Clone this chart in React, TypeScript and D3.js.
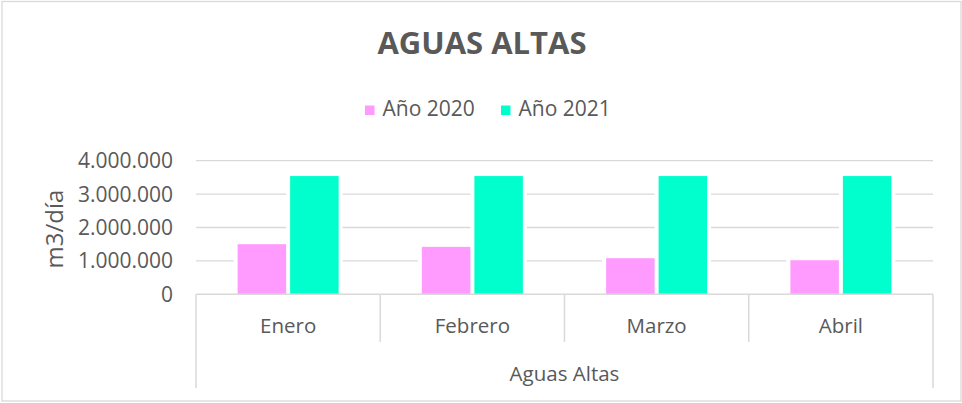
import { useEffect, useRef } from 'react';
import * as d3 from 'd3';

const months = ['Enero', 'Febrero', 'Marzo', 'Abril'];
const seriesNames = ['Año 2020', 'Año 2021'];
const values2020 = [1500000, 1420000, 1080000, 1020000];
const values2021 = [3540000, 3540000, 3540000, 3540000];
const yTicks = [0, 1000000, 2000000, 3000000, 4000000];
const groupLabel = 'Aguas Altas';

const colors = ['#FF9BFF', '#00FFCC'];
const textColor = '#595959';
const gridColor = '#D9D9D9';
const font = '"Open Sans", sans-serif';

const App = () => {
  const chartRef = useRef<SVGSVGElement>(null);

  useEffect(() => {
    document.body.style.margin = '0';
    const width = 962;
    const height = 403;
    const plot = { left: 196, right: 933, top: 160.7, bottom: 294.3 };

    const svg = d3.select(chartRef.current);
    svg.selectAll('*').remove();

    svg.attr('width', width).attr('height', height);

    // chart frame
    svg.append('rect')
      .attr('x', 2).attr('y', 1.5)
      .attr('width', 959).attr('height', 399.5)
      .attr('fill', '#fff')
      .attr('stroke', gridColor)
      .attr('stroke-width', 1.3);

    // title
    svg.append('text')
      .attr('x', 482).attr('y', 54.3)
      .attr('text-anchor', 'middle')
      .attr('font-family', font)
      .attr('font-weight', 'bold')
      .attr('font-size', 31)
      .attr('fill', textColor)
      .text('AGUAS ALTAS');

    // legend
    const legendX = [365, 501];
    seriesNames.forEach((name, i) => {
      svg.append('rect')
        .attr('x', legendX[i]).attr('y', 105.5)
        .attr('width', 9.5).attr('height', 9.5)
        .attr('fill', colors[i]);
      svg.append('text')
        .attr('x', legendX[i] + 17.5).attr('y', 116)
        .attr('font-family', font)
        .attr('font-size', 21)
        .attr('fill', textColor)
        .text(name);
    });

    const yScale = d3.scaleLinear()
      .domain([0, 4000000])
      .range([plot.bottom, plot.top]);

    const xScale = d3.scaleBand()
      .domain(months)
      .range([plot.left, plot.right])
      .padding(0);

    const inner = d3.scaleBand()
      .domain(seriesNames)
      .range([-50.5, 50.5])
      .paddingInner(0.076)
      .paddingOuter(0);

    // horizontal grid lines
    svg.append('g')
      .selectAll('line')
      .data(yTicks.filter(d => d > 0))
      .enter().append('line')
      .attr('x1', plot.left).attr('x2', plot.right)
      .attr('y1', d => yScale(d)).attr('y2', d => yScale(d))
      .attr('stroke', gridColor)
      .attr('stroke-width', 1.3);

    // y tick labels
    const fmt = (d: number) => d3.format(',')(d).replace(/,/g, '.');
    svg.append('g')
      .selectAll('text')
      .data(yTicks)
      .enter().append('text')
      .attr('x', 173)
      .attr('y', d => yScale(d))
      .attr('dy', '0.36em')
      .attr('text-anchor', 'end')
      .attr('font-family', font)
      .attr('font-size', 21)
      .attr('fill', textColor)
      .text(d => fmt(d));

    // y axis title
    svg.append('text')
      .attr('transform', 'translate(62.5,229) rotate(-90)')
      .attr('text-anchor', 'middle')
      .attr('font-family', font)
      .attr('font-size', 24)
      .attr('fill', textColor)
      .text('m3/día');

    // bars
    const bars = months.flatMap((m, i) => [
      { month: m, series: seriesNames[0], value: values2020[i], color: colors[0] },
      { month: m, series: seriesNames[1], value: values2021[i], color: colors[1] },
    ]);
    const barX = (d: typeof bars[number]) =>
      (xScale(d.month) as number) + xScale.bandwidth() / 2 + (inner(d.series) as number);

    // white halo behind bars (breaks the gridlines like in the original)
    svg.append('g')
      .selectAll('rect')
      .data(bars)
      .enter().append('rect')
      .attr('x', d => barX(d) - 4)
      .attr('y', d => yScale(d.value) - 1)
      .attr('width', inner.bandwidth() + 8)
      .attr('height', d => yScale(0) - yScale(d.value) + 1)
      .attr('fill', '#fff');

    svg.append('g')
      .selectAll('rect')
      .data(bars)
      .enter().append('rect')
      .attr('x', d => barX(d))
      .attr('y', d => yScale(d.value))
      .attr('width', inner.bandwidth())
      .attr('height', d => yScale(0) - yScale(d.value))
      .attr('fill', d => d.color);

    // category axis
    const axis = svg.append('g');
    axis.append('line')
      .attr('x1', plot.left).attr('x2', plot.right)
      .attr('y1', plot.bottom).attr('y2', plot.bottom)
      .attr('stroke', gridColor)
      .attr('stroke-width', 1.5);

    const edges = months.map(m => xScale(m) as number).concat(plot.right);
    axis.selectAll('.sep')
      .data(edges)
      .enter().append('line')
      .attr('class', 'sep')
      .attr('x1', d => d).attr('x2', d => d)
      .attr('y1', plot.bottom)
      .attr('y2', (d, i) => (i === 0 || i === edges.length - 1 ? 388 : 342))
      .attr('stroke', gridColor)
      .attr('stroke-width', 1.5);

    axis.selectAll('.cat')
      .data(months)
      .enter().append('text')
      .attr('class', 'cat')
      .attr('x', d => (xScale(d) as number) + xScale.bandwidth() / 2)
      .attr('y', 333.3)
      .attr('text-anchor', 'middle')
      .attr('font-family', font)
      .attr('font-size', 20.5)
      .attr('fill', textColor)
      .text(d => d);

    axis.append('text')
      .attr('x', (plot.left + plot.right) / 2)
      .attr('y', 381)
      .attr('text-anchor', 'middle')
      .attr('font-family', font)
      .attr('font-size', 20.5)
      .attr('fill', textColor)
      .text(groupLabel);
  }, []);

  return <svg ref={chartRef} style={{ display: 'block' }}></svg>;
};

export default App;
